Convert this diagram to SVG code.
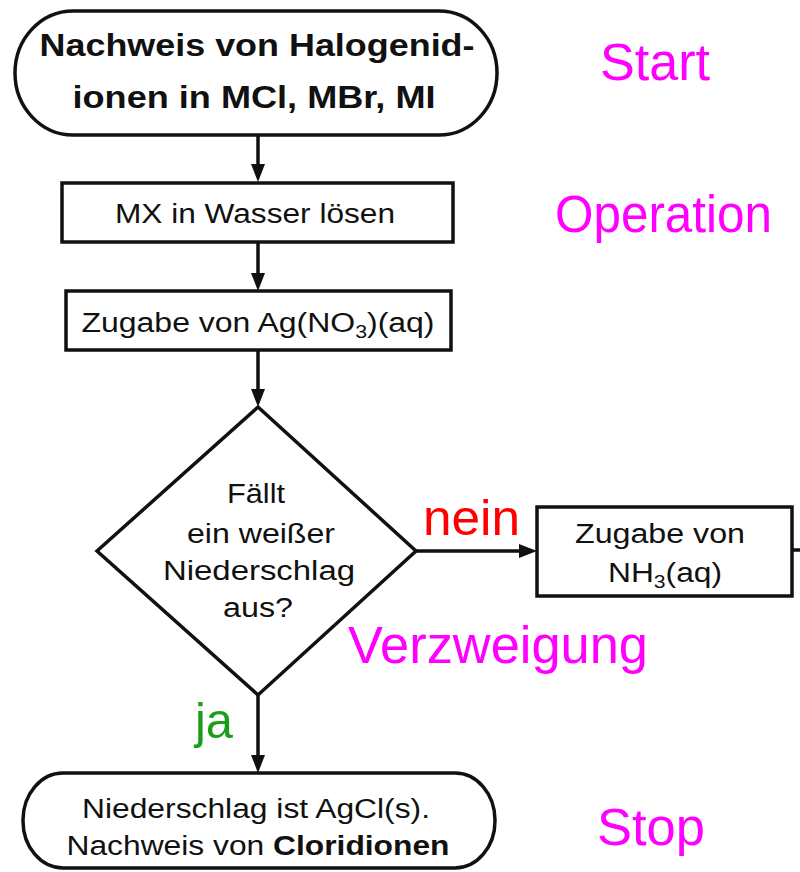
<svg xmlns="http://www.w3.org/2000/svg" width="800" height="872" viewBox="0 0 800 872">
  <style>
    .shape { fill: #ffffff; stroke: #111111; stroke-width: 3.5; }
    .edge { fill: none; stroke: #111111; stroke-width: 3.5; }
    .t { font-family: "Liberation Sans", Arial, sans-serif; fill: #111111; text-anchor: middle; }
    .tb { font-weight: bold; }
    .lbl { font-family: "Liberation Sans", Arial, sans-serif; }
    .kind { fill: #ff00ff; font-size: 51px; }
  </style>
  <rect width="800" height="872" fill="#ffffff"/>

  <!-- connectors -->
  <g id="connectors">
    <line class="edge" x1="258" y1="135" x2="258" y2="164"/>
    <path d="M251,164 L258,182 L265,164 Z" fill="#111111"/>
    <line class="edge" x1="258" y1="242" x2="258" y2="273"/>
    <path d="M251,273 L258,291 L265,273 Z" fill="#111111"/>
    <line class="edge" x1="258" y1="350" x2="258" y2="389"/>
    <path d="M251,389 L258,407 L265,389 Z" fill="#111111"/>
    <line class="edge" x1="258" y1="695" x2="258" y2="755"/>
    <path d="M251,755 L258,773 L265,755 Z" fill="#111111"/>
    <line class="edge" x1="416" y1="551" x2="519" y2="551"/>
    <path d="M519,544 L537,551 L519,558 Z" fill="#111111"/>
    <line class="edge" x1="792" y1="550" x2="800" y2="550"/>
  </g>

  <!-- start terminal -->
  <g id="start">
    <rect class="shape" x="15" y="11" width="482" height="124" rx="58" ry="62"/>
    <text class="t tb" x="257" y="56" font-size="32" textLength="435" lengthAdjust="spacingAndGlyphs">Nachweis von Halogenid-</text>
    <text class="t tb" x="254" y="108" font-size="32" textLength="363" lengthAdjust="spacingAndGlyphs">ionen in MCl, MBr, MI</text>
  </g>

  <!-- dissolve step -->
  <g id="dissolve">
    <rect class="shape" x="62" y="183" width="391" height="59"/>
    <text class="t" x="255" y="223" font-size="27" textLength="280" lengthAdjust="spacingAndGlyphs">MX in Wasser lösen</text>
  </g>

  <!-- silver nitrate step -->
  <g id="silver-nitrate">
    <rect class="shape" x="66" y="291" width="385" height="59"/>
    <text class="t" x="258" y="332" font-size="27" textLength="353" lengthAdjust="spacingAndGlyphs">Zugabe von Ag(NO<tspan font-size="18" dy="6">3</tspan><tspan dy="-6">)(aq)</tspan></text>
  </g>

  <!-- decision -->
  <g id="decision">
    <polygon class="shape" points="258,407 416,551 258,695 97,551"/>
    <text class="t" x="256" y="503" font-size="27" textLength="58" lengthAdjust="spacingAndGlyphs">Fällt</text>
    <text class="t" x="261" y="543" font-size="27" textLength="148" lengthAdjust="spacingAndGlyphs">ein weißer</text>
    <text class="t" x="259" y="580" font-size="27" textLength="192" lengthAdjust="spacingAndGlyphs">Niederschlag</text>
    <text class="t" x="258" y="617" font-size="27" textLength="70" lengthAdjust="spacingAndGlyphs">aus?</text>
  </g>

  <!-- ammonia step -->
  <g id="ammonia">
    <rect class="shape" x="537" y="507" width="255" height="89"/>
    <text class="t" x="660" y="543" font-size="27" textLength="170" lengthAdjust="spacingAndGlyphs">Zugabe von</text>
    <text class="t" x="665" y="582" font-size="27" textLength="114" lengthAdjust="spacingAndGlyphs">NH<tspan font-size="18" dy="6">3</tspan><tspan dy="-6">(aq)</tspan></text>
  </g>

  <!-- stop terminal -->
  <g id="stop">
    <rect class="shape" x="23" y="773" width="472" height="95" rx="40" ry="47"/>
    <text class="t" x="256" y="818" font-size="27" textLength="348" lengthAdjust="spacingAndGlyphs">Niederschlag ist AgCl(s).</text>
    <text class="t" x="258" y="855" font-size="27" textLength="383" lengthAdjust="spacingAndGlyphs">Nachweis von <tspan class="tb">Cloridionen</tspan></text>
  </g>

  <!-- branch labels -->
  <g id="branch-labels">
    <text class="lbl" x="423" y="535" font-size="50" fill="#ff0000" textLength="97" lengthAdjust="spacingAndGlyphs">nein</text>
    <text class="lbl" x="195" y="738" font-size="50" fill="#1a9e1a" textLength="38" lengthAdjust="spacingAndGlyphs">ja</text>
  </g>

  <!-- symbol legend -->
  <g id="legend">
    <text class="lbl kind" x="600" y="80" textLength="110" lengthAdjust="spacingAndGlyphs">Start</text>
    <text class="lbl kind" x="555" y="232" textLength="217" lengthAdjust="spacingAndGlyphs">Operation</text>
    <text class="lbl kind" x="348" y="663" font-size="52" textLength="300" lengthAdjust="spacingAndGlyphs">Verzweigung</text>
    <text class="lbl kind" x="597" y="845" textLength="108" lengthAdjust="spacingAndGlyphs">Stop</text>
  </g>
</svg>
